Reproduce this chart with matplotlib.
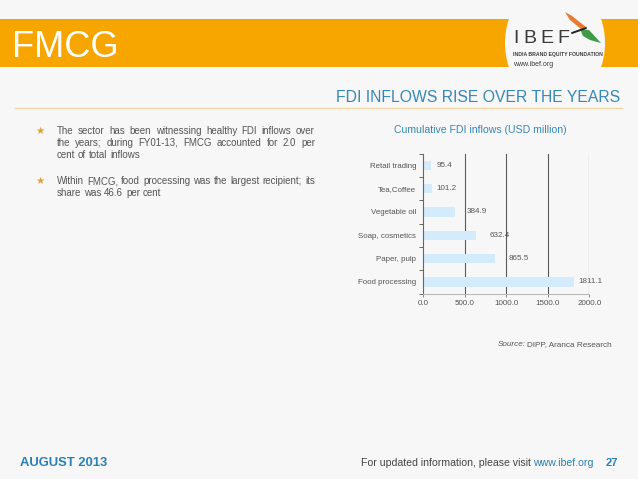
import matplotlib
matplotlib.use('Agg')
import matplotlib.pyplot as plt
from matplotlib.patches import Rectangle, Ellipse, Polygon

# ---- data ----
categories = ['Retail trading', 'Tea,Coffee', 'Vegetable oil', 'Soap, cosmetics',
              'Paper, pulp', 'Food processing']
values = [95.4, 101.2, 384.9, 632.4, 865.5, 1811.1]
x_ticks = [0, 500, 1000, 1500, 2000]
x_tick_labels = ['0.0', '500.0', '1000.0', '1500.0', '2000.0']
value_labels = ['95.4', '101.2', '384.9', '632.4', '865.5', '1811.1']

# ---- style / layout ----
label_dx_px = [5, 5, 11, 14, 13, 5]
FONT = ['Liberation Sans', 'DejaVu Sans']
plt.rcParams['font.family'] = FONT
BG = '#f7f7f7'
ORANGE = '#f7a600'
BLUE = '#3587b8'
GREY = '#555555'

W, H = 638, 479
fig = plt.figure(figsize=(W / 100, H / 100), dpi=100, facecolor=BG)
bg = fig.add_axes([0, 0, 1, 1])
bg.set_xlim(0, W)
bg.set_ylim(H, 0)
bg.axis('off')
renderer = fig.canvas.get_renderer()

# header band
bg.add_patch(Rectangle((0, 18.5), W, 48, color=ORANGE, lw=0, zorder=1))
bg.add_patch(Ellipse((555, 43), 100, 124, facecolor=BG, lw=0, zorder=2))
bg.text(12, 57, 'FMCG', fontsize=26, color='white', va='baseline', ha='left', zorder=3)

# logo
for ch, xl in zip('IBEF', [513, 523, 540, 557]):
    bg.text(xl, 43, ch, fontsize=14, color='#3a3a3a', va='baseline', ha='left', zorder=3)
bg.text(513, 55.5, 'INDIA BRAND EQUITY FOUNDATION', fontsize=3.7, fontweight='bold',
        color='#3a3a3a', va='baseline', ha='left', zorder=3)
bg.text(513, 66, 'www.ibef.org', fontsize=5, color='#3a3a3a', va='baseline', ha='left', zorder=3)
bg.add_patch(Polygon([(565, 12), (572, 16), (586, 27), (581, 29), (570, 20)],
                     closed=True, color='#e87b2c', lw=0, zorder=3))
bg.add_patch(Polygon([(580, 29), (589, 30), (601, 43), (590, 40), (583, 36)],
                     closed=True, color='#3f9b45', lw=0, zorder=3))
bg.plot([572, 586], [33, 28], color='#222222', lw=1.4, zorder=4, solid_capstyle='round')

# subtitle and rule
bg.text(620, 102, 'FDI INFLOWS RISE OVER THE YEARS', fontsize=11.3, color=BLUE,
        va='baseline', ha='right', zorder=3)
bg.plot([15, 622], [108, 108], color='#f3d6a6', lw=1.0, zorder=3)

# bullet text (justified)
LEFT, RIGHT = 57, 315
bullets = [
    (133.5, ['The sector has been witnessing healthy FDI inflows over',
             'the years; during FY01-13, FMCG accounted for 2.0 per',
             'cent of total inflows']),
    (184, ['Within FMCG, food processing was the largest recipient; its',
           'share was 46.6 per cent']),
]

# pick a font size so that the widest line fits naturally
probe = bg.text(0, 0, bullets[1][1][0], fontsize=7.5)
pw = probe.get_window_extent(renderer).width
probe.remove()
TXT_FS = 7.5 * (RIGHT - LEFT - 3) / pw


def text_width(s):
    t = bg.text(0, 0, s, fontsize=TXT_FS)
    w = t.get_window_extent(renderer).width
    t.remove()
    return w


SPACE = text_width('a a') - text_width('aa')


def justified_line(y, line, justify=True):
    words = line.split(' ')
    widths = [text_width(w) for w in words]
    if justify and len(words) > 1:
        gap = (RIGHT - LEFT - sum(widths)) / (len(words) - 1)
    else:
        gap = SPACE
    x = LEFT
    for w, wd in zip(words, widths):
        bg.text(x, y, w, fontsize=TXT_FS, color=GREY, va='baseline', ha='left')
        x += wd + gap


for y0, lines in bullets:
    bg.text(40, y0, '\u2605', fontsize=7.5, color='#d9a23d', va='baseline', ha='center',
            family='DejaVu Sans')
    for i, ln in enumerate(lines):
        justified_line(y0 + i * 12, ln, justify=(i < len(lines) - 1))

# chart title
bg.text(480, 133, 'Cumulative FDI inflows (USD million)', fontsize=7.6, color=BLUE,
        va='baseline', ha='center')

# source
src = bg.text(612, 346, 'DIPP, Aranca Research', fontsize=5.9, color=GREY,
              va='baseline', ha='right')
sw = src.get_window_extent(renderer).width
bg.text(612 - sw - 1.5, 346, 'Source:', fontsize=5.9, color=GREY, style='italic',
        va='baseline', ha='right')

# footer
bg.text(20, 466, 'AUGUST 2013', fontsize=9.4, fontweight='bold', color='#2a7fb2',
        va='baseline', ha='left')
t_url = bg.text(593, 466, 'www.ibef.org', fontsize=7.6, color='#2a7fb2',
                va='baseline', ha='right')
uw = t_url.get_window_extent(renderer).width
bg.text(593 - uw - 2, 466, 'For updated information, please visit', fontsize=7.6,
        color='#444444', va='baseline', ha='right')
bg.text(618, 466, '27', fontsize=8, fontweight='bold', color='#2a7fb2',
        va='baseline', ha='right')

# ---- chart ----
left_px, right_px, top_px, bot_px = 423.3, 589.3, 153.5, 293.5
ax = fig.add_axes([left_px / W, 1 - bot_px / H, (right_px - left_px) / W,
                   (bot_px - top_px) / H])
ax.patch.set_alpha(0)
ypos = list(range(len(categories)))
ax.barh(ypos, values, height=0.4, color='#d4ebfb', zorder=2)
ax.set_xlim(0, 2000)
ax.set_ylim(len(categories) - 0.5, -0.5)
ax.set_xticks(x_ticks)
ax.set_xticklabels(x_tick_labels)
ax.set_yticks(ypos)
ax.set_yticklabels(categories)
ax.set_yticks([i - 0.5 for i in range(len(categories) + 1)], minor=True)
ax.tick_params(axis='y', which='major', length=0, pad=5, labelsize=5.7, labelcolor=GREY)
ax.tick_params(axis='y', which='minor', length=3, width=0.7, color='#666666', direction='out')
ax.tick_params(axis='x', which='major', length=2.5, width=0.7, color='#888888', pad=2.5,
               labelsize=5.8, labelcolor=GREY)
for xv in x_ticks[1:]:
    ax.axvline(xv, color='#5a5a5a', lw=0.8, zorder=1)
for s in ['top', 'right']:
    ax.spines[s].set_visible(False)
ax.spines['left'].set_color('#666666')
ax.spines['left'].set_linewidth(0.8)
ax.spines['bottom'].set_color('#bbbbbb')
ax.spines['bottom'].set_linewidth(0.8)

for i, (v, lab) in enumerate(zip(values, value_labels)):
    ax.annotate(lab, (v, i), xytext=(label_dx_px[i] * 0.72, 0), textcoords='offset points',
                va='center', ha='left', fontsize=5.8, color=GREY, zorder=3)

fig.savefig('out.png', dpi=100, facecolor=fig.get_facecolor())
